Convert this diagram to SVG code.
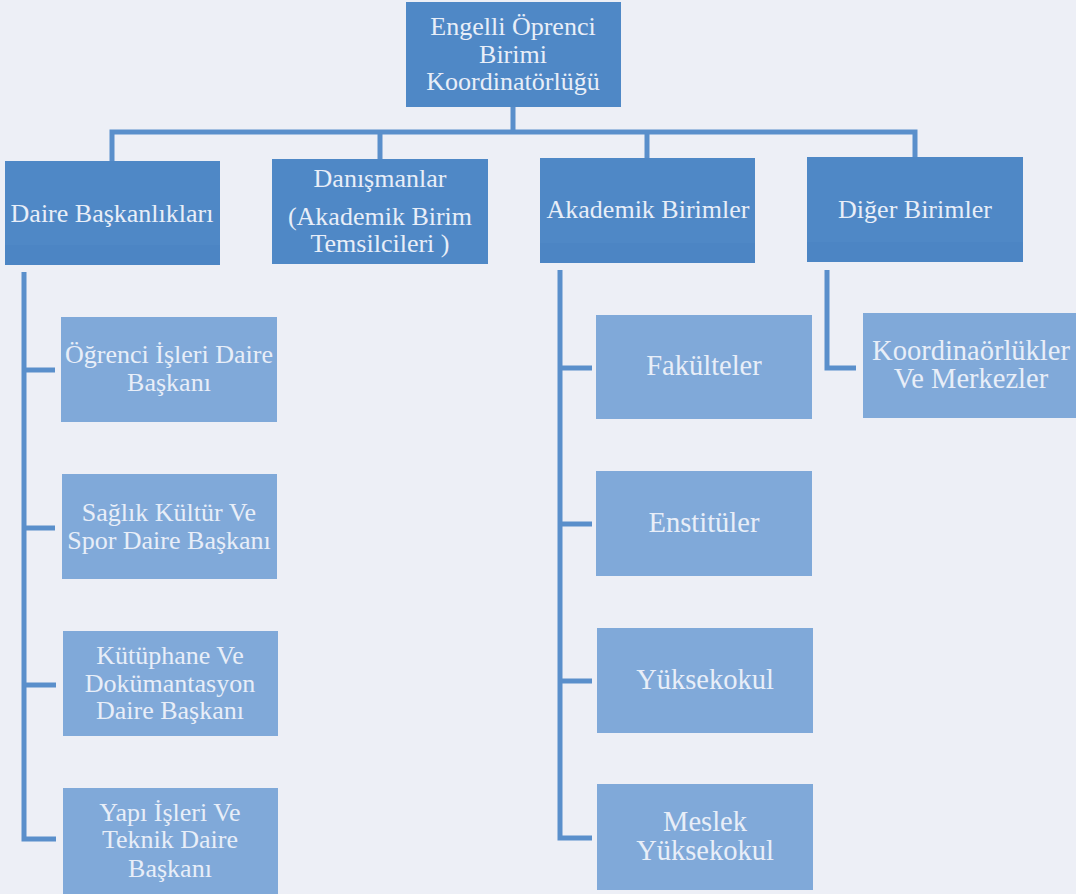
<svg xmlns="http://www.w3.org/2000/svg" width="1076" height="894" viewBox="0 0 1076 894">
<style>
.bg{fill:#edeff6}
.dark{fill:#4f88c6}
.light{fill:#80a9d9}
.band{fill:#3f7cc0;opacity:0.2}
.t{font-family:'Liberation Serif','Tinos','DejaVu Serif',serif;font-size:26px;fill:#e8eef8;text-anchor:middle}
.tb{font-size:28.5px}
.c{fill:none;stroke:#5a8fcb;stroke-width:5;stroke-linecap:butt;stroke-linejoin:miter}
</style>
<rect class="bg" x="0" y="0" width="1076" height="894"/>
<g id="connectors">
<path class="c" d="M513 107 V132"/>
<path class="c" d="M112 161 V132 H915 V157"/>
<path class="c" d="M380 132 V159"/>
<path class="c" d="M647 132 V158"/>
<path class="c" d="M24 272 V839 H56"/>
<path class="c" d="M24 370 H55"/>
<path class="c" d="M24 528 H55"/>
<path class="c" d="M24 685 H56"/>
<path class="c" d="M560 270 V838 H592"/>
<path class="c" d="M560 368 H592"/>
<path class="c" d="M560 524 H592"/>
<path class="c" d="M560 681 H592"/>
<path class="c" d="M827 270 V368 H856"/>
</g>
<g id="n-root">
<rect class="dark" x="406" y="2" width="215" height="105"/>
<text class="t" x="513" y="35">Engelli Öprenci</text>
<text class="t" x="513" y="63">Birimi</text>
<text class="t" x="513" y="90">Koordinatörlüğü</text>
</g>
<g id="n-daire">
<rect class="dark" x="5" y="161" width="215" height="104"/>
<rect class="band" x="5" y="245" width="215" height="20"/>
<text class="t" x="112" y="222">Daire Başkanlıkları</text>
</g>
<g id="n-danisman">
<rect class="dark" x="272" y="159" width="216" height="105"/>
<text class="t" x="380" y="187">Danışmanlar</text>
<text class="t" x="380" y="225">(Akademik Birim</text>
<text class="t" x="380" y="252">Temsilcileri )</text>
</g>
<g id="n-akademik">
<rect class="dark" x="540" y="158" width="215" height="105"/>
<rect class="band" x="540" y="243" width="215" height="20"/>
<text class="t" x="648" y="218">Akademik Birimler</text>
</g>
<g id="n-diger">
<rect class="dark" x="807" y="157" width="216" height="105"/>
<rect class="band" x="807" y="242" width="216" height="20"/>
<text class="t" x="915" y="218">Diğer Birimler</text>
</g>
<g id="n-ogrenci">
<rect class="light" x="61" y="317" width="216" height="105"/>
<text class="t" x="169" y="363">Öğrenci İşleri Daire</text>
<text class="t" x="169" y="391">Başkanı</text>
</g>
<g id="n-saglik">
<rect class="light" x="62" y="474" width="215" height="105"/>
<text class="t" x="169" y="521">Sağlık Kültür Ve</text>
<text class="t" x="169" y="549">Spor Daire Başkanı</text>
</g>
<g id="n-kutuphane">
<rect class="light" x="63" y="631" width="215" height="105"/>
<text class="t" x="170" y="664">Kütüphane Ve</text>
<text class="t" x="170" y="692">Dokümantasyon</text>
<text class="t" x="170" y="719">Daire Başkanı</text>
</g>
<g id="n-yapi">
<rect class="light" x="63" y="788" width="215" height="106"/>
<text class="t" x="170" y="821">Yapı İşleri Ve</text>
<text class="t" x="170" y="848">Teknik Daire</text>
<text class="t" x="170" y="877">Başkanı</text>
</g>
<g id="n-fakulteler">
<rect class="light" x="596" y="315" width="216" height="104"/>
<text class="t tb" x="704" y="375">Fakülteler</text>
</g>
<g id="n-enstituler">
<rect class="light" x="596" y="471" width="216" height="105"/>
<text class="t tb" x="704" y="532">Enstitüler</text>
</g>
<g id="n-yuksekokul">
<rect class="light" x="597" y="628" width="216" height="105"/>
<text class="t tb" x="705" y="689">Yüksekokul</text>
</g>
<g id="n-meslek">
<rect class="light" x="597" y="784" width="216" height="106"/>
<text class="t tb" x="705" y="831">Meslek</text>
<text class="t tb" x="705" y="860">Yüksekokul</text>
</g>
<g id="n-koord">
<rect class="light" x="863" y="313" width="217" height="105"/>
<text class="t tb" x="971" y="360">Koordinaörlükler</text>
<text class="t tb" x="971" y="388">Ve Merkezler</text>
</g>
</svg>
